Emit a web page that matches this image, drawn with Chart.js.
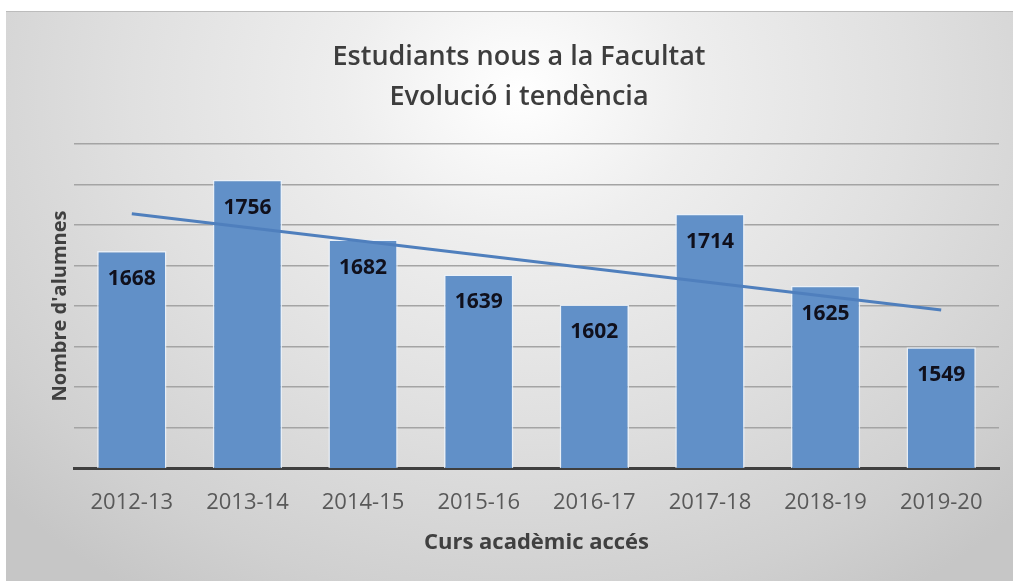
<!DOCTYPE html>
<html><head><meta charset="utf-8">
<script src="https://cdn.jsdelivr.net/npm/chart.js@4"></script>
<style>
html,body{margin:0;padding:0;background:#fff;overflow:hidden;width:1013px;height:581px;}
#bg{position:absolute;left:6px;top:11px;width:1007px;height:570px;
background: radial-gradient(ellipse 70% 105% at 51% 14%, #ffffff 0%, #eeeeee 25%, #e0e0e0 55%, #d0d0d0 85%, #c6c6c6 100%);
border-top:1px solid #bcbcbc; box-sizing:border-box}
#wrap{position:absolute;left:6px;top:11px;width:1007px;height:570px;}
canvas{display:block}
</style></head>
<body>
<div id="bg"></div>
<div id="wrap"><canvas id="c" width="1007" height="570" style="width:1007px;height:570px"></canvas></div>
<script>
const categories = ['2012-13','2013-14','2014-15','2015-16','2016-17','2017-18','2018-19','2019-20'];
const students = [1668, 1756, 1682, 1639, 1602, 1714, 1625, 1549];
const trendEnds = [1714, null, null, null, null, null, null, 1595];
const yMin = 1400, yMax = 1800, yStep = 50;
const titleLines = ['Estudiants nous a la Facultat', 'Evolució i tendència'];
const xTitle = 'Curs acadèmic accés';
const yTitle = "Nombre d'alumnes";

const FONT = '"Open Sans", "Liberation Sans", sans-serif';

const barLabels = {
  id: 'barLabels',
  afterDatasetsDraw(chart) {
    const meta = chart.getDatasetMeta(1);
    const ctx = chart.ctx;
    ctx.save();
    ctx.font = 'bold 21px ' + FONT;
    ctx.fillStyle = '#10101c';
    ctx.textAlign = 'center';
    ctx.textBaseline = 'middle';
    meta.data.forEach((bar, i) => {
      ctx.fillText(String(students[i]), bar.x, bar.y + 28);
    });
    ctx.restore();
  }
};

new Chart(document.getElementById('c'), {
  data: {
    labels: categories,
    datasets: [
      {
        type: 'line',
        data: trendEnds,
        spanGaps: true,
        borderColor: '#4f7fbd',
        borderWidth: 3,
        pointRadius: 0,
        order: 0
      },
      {
        type: 'bar',
        data: students,
        backgroundColor: '#6190c8',
        borderColor: 'rgba(235,242,250,0.85)',
        borderWidth: 1.5,
        categoryPercentage: 1,
        barPercentage: 0.6,
        order: 1
      }
    ]
  },
  options: {
    responsive: false,
    devicePixelRatio: 1,
    animation: false,
    layout: { padding: { left: 33, right: 14, top: 0, bottom: 0 } },
    plugins: {
      legend: { display: false },
      tooltip: { enabled: false },
      title: {
        display: true,
        text: titleLines,
        color: '#3d3d3d',
        font: { family: FONT, size: 27, weight: '600', lineHeight: 1.4815 },
        padding: { top: 26, bottom: 27 }
      }
    },
    scales: {
      x: {
        grid: { display: false, drawTicks: false },
        border: { display: true, color: '#3f3f3f', width: 3 },
        ticks: { color: '#595959', font: { family: FONT, size: 22 }, padding: 22, maxRotation: 0 },
        title: {
          display: true, text: xTitle, color: '#404040',
          font: { family: FONT, size: 22, weight: 'bold', lineHeight: 1.2 },
          padding: { top: 0, bottom: 25 }
        },
        afterFit(s) { s.height = 113; }
      },
      y: {
        min: yMin, max: yMax,
        ticks: { display: false, stepSize: yStep },
        grid: { color: '#a4a4a4', lineWidth: 1.6, drawTicks: false },
        border: { display: false },
        title: {
          display: true, text: yTitle, color: '#404040',
          font: { family: FONT, size: 20, weight: 'bold', lineHeight: 1.2 },
          padding: { top: 9, bottom: 0 }
        },
        afterFit(s) { s.width = 35; }
      }
    }
  },
  plugins: [barLabels]
});
</script>
</body></html>
